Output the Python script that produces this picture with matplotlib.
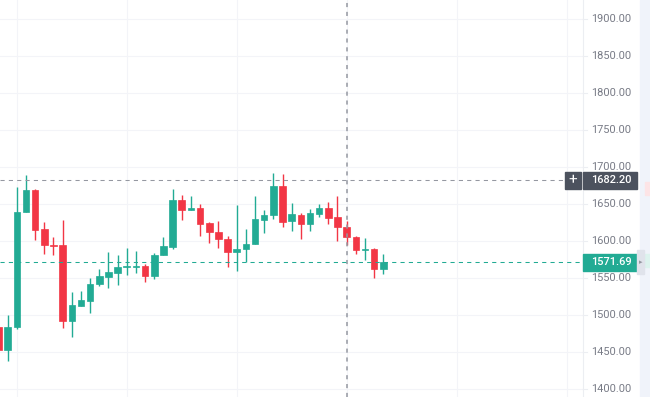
import numpy as np
import matplotlib
matplotlib.use("Agg")
import matplotlib.pyplot as plt
from matplotlib.patches import Rectangle
from matplotlib.transforms import blended_transform_factory

plt.rcParams['font.family'] = ['Roboto', 'DejaVu Sans']

# OHLC (one entry per candle, left to right)
opens = [1484.0, 1453.6, 1484.4, 1639.9, 1669.5, 1616.3, 1595.4, 1594.5, 1492.6, 1512.7,
         1520.0, 1542.2, 1551.8, 1557.3, 1565.0, 1565.5, 1566.3, 1552.6, 1581.0, 1592.5,
         1656.3, 1642.0, 1644.6, 1624.1, 1613.2, 1603.6, 1585.4, 1589.0, 1596.0, 1629.0,
         1635.0, 1675.4, 1626.8, 1635.8, 1623.1, 1636.8, 1645.0, 1632.3, 1620.0, 1605.8,
         1588.0, 1589.0, 1563.1]
highs = [1490.0, 1500.4, 1673.2, 1690.0, 1671.0, 1626.3, 1606.4, 1628.6, 1531.3, 1533.1,
         1550.4, 1562.7, 1585.4, 1580.9, 1591.4, 1586.7, 1569.5, 1584.5, 1606.4, 1670.9,
         1662.7, 1660.9, 1650.4, 1626.3, 1627.6, 1607.2, 1649.1, 1616.3, 1660.9, 1642.6,
         1692.7, 1691.3, 1651.4, 1638.1, 1643.6, 1650.4, 1652.7, 1661.7, 1627.6, 1607.2,
         1604.0, 1591.4, 1582.2]
lows = [1445.0, 1438.0, 1480.9, 1639.0, 1601.7, 1583.2, 1580.9, 1482.2, 1470.8, 1512.0,
        1503.5, 1539.9, 1536.8, 1540.3, 1554.9, 1557.3, 1545.0, 1549.5, 1580.9, 1590.0,
        1628.6, 1641.9, 1607.2, 1597.2, 1590.4, 1565.4, 1559.4, 1571.7, 1595.9, 1611.8,
        1630.0, 1620.0, 1614.0, 1603.6, 1614.0, 1632.3, 1623.1, 1600.4, 1594.5, 1583.2,
        1575.4, 1550.4, 1555.9]
closes = [1453.6, 1484.4, 1639.9, 1669.5, 1615.4, 1594.5, 1593.6, 1492.6, 1513.6, 1520.8,
          1542.7, 1552.6, 1558.1, 1565.4, 1566.3, 1566.0, 1552.6, 1581.3, 1593.5, 1656.3,
          1642.2, 1644.6, 1623.1, 1612.6, 1602.7, 1585.9, 1589.0, 1596.8, 1630.0, 1635.4,
          1675.4, 1626.3, 1636.8, 1623.1, 1637.7, 1645.0, 1630.9, 1619.5, 1605.8, 1588.1,
          1589.5, 1563.1, 1571.69]

price_ticks = [1400, 1450, 1500, 1550, 1600, 1650, 1700, 1750, 1800, 1850, 1900]
time_grid = [2, 14, 26, 38, 50, 62]
crosshair_idx = 38
crosshair_price = 1682.20
last_price = closes[-1]

UP = '#22ab94'
DOWN = '#f23645'
GRID = '#f3f4f8'
TXT = '#787b86'

W, H = 650, 397
fig = plt.figure(figsize=(W / 100, H / 100), dpi=100)
ax = fig.add_axes([0, 0, 583 / W, 1])
ax.set_xlim(0.16, 63.8)
ax.set_ylim(1389.6, 1926.1)
for s in ax.spines.values():
    s.set_visible(False)
ax.set_xticks([])
ax.set_yticks([])

# grid
for p in price_ticks:
    ax.axhline(p, color=GRID, lw=0.8, zorder=0)
for t in time_grid:
    ax.axvline(t, color=GRID, lw=0.8, zorder=0)

# candles
x = np.arange(len(opens))
o = np.array(opens)
c = np.array(closes)
cols = [UP if cc >= oo else DOWN for oo, cc in zip(o, c)]
ax.vlines(x, lows, highs, colors=cols, lw=1.0, zorder=3)
body_lo = np.minimum(o, c)
body_h = np.maximum(np.abs(c - o), 1.6)
ax.bar(x, body_h, bottom=body_lo, width=0.72, color=cols, edgecolor=cols, lw=0.5, zorder=4)

# crosshair and last price line
ax.axvline(crosshair_idx, color='#9598a1', lw=1.1, ls=(0, (2.7, 3.1)), zorder=5)
ax.axhline(crosshair_price, color='#9598a1', lw=0.75, ls=(0, (4, 4)), zorder=5)
ax.axhline(last_price, color=UP, lw=0.75, ls=(0, (4, 4)), zorder=5)

# right price scale
tr = blended_transform_factory(fig.transFigure, ax.transData)
fig.add_artist(Rectangle((640 / W, 0), 10 / W, 1, transform=fig.transFigure,
                         color='#f0f3fa', zorder=0))
fig.add_artist(plt.Line2D([583 / W, 583 / W], [0, 1], transform=fig.transFigure,
                          color='#eceef2', lw=0.8))
for p in price_ticks:
    fig.add_artist(plt.Line2D([583 / W, 587 / W], [p, p], transform=tr, color='#eceef2', lw=0.8))
    fig.text(591 / W, p, f'{p:.2f}', transform=tr, color=TXT, fontsize=7.9,
             va='center', ha='left')

# faint markers in the side strip
fig.add_artist(Rectangle((645 / W, 1662), 5 / W, 18, transform=tr, color='#fde4e6', zorder=1))
fig.add_artist(Rectangle((645 / W, 1565), 5 / W, 18, transform=tr, color='#ddf3ee', zorder=1))

# crosshair price label with "+" button
fig.add_artist(Rectangle((583 / W, crosshair_price - 11.5), 54 / W, 23, transform=tr,
                         color='#4c525e', zorder=6))
fig.text(591 / W, crosshair_price, f'{crosshair_price:.2f}', transform=tr, color='white',
         fontsize=7.9, fontweight='medium', va='center', ha='left', zorder=7)
fig.add_artist(Rectangle((565 / W, crosshair_price - 11.5), 16 / W, 23, transform=tr,
                         color='#4c525e', zorder=6))
fig.text(573 / W, crosshair_price, '+', transform=tr, color='white', fontsize=11,
         va='center', ha='center', zorder=7)

# last price label
fig.add_artist(Rectangle((583 / W, last_price - 11.5), 54 / W, 23, transform=tr,
                         color=UP, zorder=6))
fig.text(591 / W, last_price, f'{last_price:.2f}', transform=tr, color='white',
         fontsize=7.9, fontweight='medium', va='center', ha='left', zorder=7)

# small scroll tab
fig.add_artist(Rectangle((637 / W, last_price - 16), 7 / W, 32, transform=tr,
                         color='#e0e3eb', zorder=6))
fig.text(640.5 / W, last_price, '\u25b8', transform=tr, color='#9598a1', fontsize=5,
         va='center', ha='center', zorder=7)

fig.savefig('out.png', dpi=100)
